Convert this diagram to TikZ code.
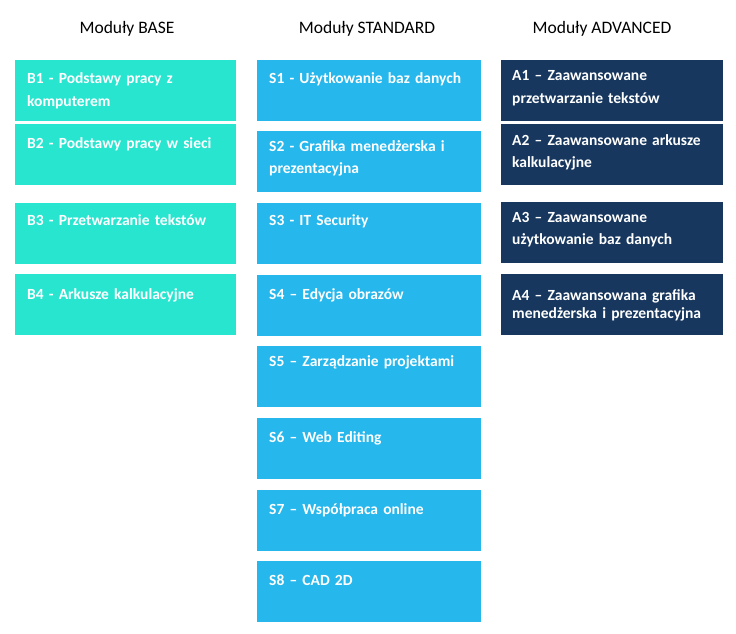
\documentclass[tikz,border=0pt]{standalone}
\usepackage{fontspec}
\setmainfont{Carlito}
\usetikzlibrary{positioning}

\definecolor{baseclr}{RGB}{40,229,208}
\definecolor{stdclr}{RGB}{38,183,236}
\definecolor{advclr}{RGB}{23,55,94}

\tikzset{
	modbox/.style={rectangle, inner sep=0pt, minimum width=#1, minimum height=61pt, anchor=north west},
	modtext/.style={anchor=base west, inner sep=0pt, text width=210pt, align=left, text=white,
		font=\bfseries\fontsize{15.5}{22.5}\selectfont},
	head/.style={anchor=base, inner sep=0pt, font=\fontsize{17.5}{20}\selectfont}
}

\begin{document}
\begin{tikzpicture}[x=1pt, y=-1pt]
	\useasboundingbox (0,0) rectangle (736,634);
	
	\node[head] (hbase) at (127,34) {Moduły BASE};
	\node[head] (hstd) at (367,34) {Moduły STANDARD};
	\node[head] (hadv) at (602,34) {Moduły ADVANCED};
	
	% BASE
	\foreach \n/\t/\b/\txt in {
		b1/60/84/{B1 - Podstawy pracy z\\komputerem},
		b2/124/148/{B2 - Podstawy pracy w sieci},
		b3/203/225/{B3 - Przetwarzanie tekstów},
		b4/274/299/{B4 - Arkusze kalkulacyjne}}{
		\node[modbox=221pt, fill=baseclr] (\n) at (15,\t) {};
		\node[modtext] (\n-txt) at (27,\b) {\txt};
	};
	
	% STANDARD
	\foreach \n/\t/\b/\txt in {
		s1/60/84/{S1 - Użytkowanie baz danych},
		s2/131/151/{S2 - Grafika menedżerska i\\prezentacyjna},
		s3/203/225/{S3 - IT Security},
		s4/275/299/{S4 – Edycja obrazów},
		s5/346/366/{S5 – Zarządzanie projektami},
		s6/418/442/{S6 – Web Editing},
		s7/490/514/{S7 – Współpraca online},
		s8/561/585/{S8 – CAD 2D}}{
		\node[modbox=224pt, fill=stdclr] (\n) at (257,\t) {};
		\node[modtext] (\n-txt) at (269,\b) {\txt};
	};
	
	% ADVANCED
	\foreach \n/\t/\b/\txt in {
		a1/60/81/{A1 – Zaawansowane\\przetwarzanie tekstów},
		a2/124/145/{A2 – Zaawansowane arkusze\\kalkulacyjne},
		a3/202/222/{A3 – Zaawansowane\\użytkowanie baz danych}}{
		\node[modbox=222pt, fill=advclr] (\n) at (501,\t) {};
		\node[modtext] (\n-txt) at (512,\b) {\txt};
	};
	\node[modbox=222pt, fill=advclr] (a4) at (501,274) {};
	\node[modtext, font=\bfseries\fontsize{15.5}{18}\selectfont] (a4-txt) at (512,300)
		{A4 – Zaawansowana grafika\\menedżerska i prezentacyjna};
	
\end{tikzpicture}
\end{document}
